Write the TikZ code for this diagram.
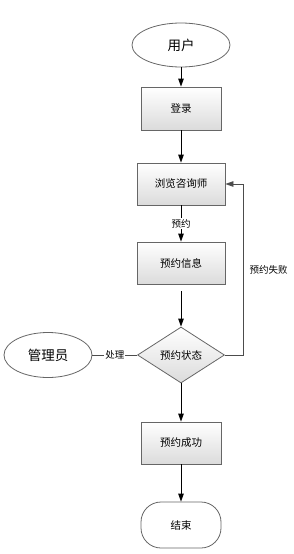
\documentclass[tikz,border=0pt]{standalone}
\usepackage{fontspec}
\setmainfont{Noto Sans CJK SC}
\usetikzlibrary{arrows.meta,shapes.geometric,positioning}
\begin{document}
\begin{tikzpicture}[x=1pt,y=-1pt,
  base/.style={draw=black!60,line width=0.8pt,inner sep=0pt,align=center},
  procbox/.style={base,rectangle,top color=white,bottom color=black!14,font=\fontsize{10.5}{12}\selectfont},
  oval/.style={base,ellipse,fill=white,font=\fontsize{13.5}{15}\selectfont},
  decide/.style={base,diamond,top color=white,bottom color=black!14,font=\fontsize{10.5}{12}\selectfont},
  term/.style={base,rectangle,rounded corners=20pt,fill=white,font=\fontsize{10.5}{12}\selectfont},
  arr/.style={draw=black,line width=0.8pt,-{Triangle[length=8pt,width=5.5pt]}},
  ln/.style={draw=black!70,line width=0.8pt},
  lbl/.style={font=\fontsize{9.5}{11}\selectfont,fill=white,inner sep=1pt}]
\useasboundingbox (0,0) rectangle (293,554);
\node[oval,minimum width=98pt,minimum height=44pt] (user) at (181,45) {用户};
\node[procbox,minimum width=80pt,minimum height=43pt] (login) at (181,108.5) {登录};
\node[procbox,minimum width=88pt,minimum height=42pt] (browse) at (181,184) {浏览咨询师};
\node[procbox,minimum width=88pt,minimum height=42pt] (info) at (181,263) {预约信息};
\node[decide,minimum width=87pt,minimum height=56pt,aspect=1.55] (state) at (181,355) {预约状态};
\node[oval,minimum width=88pt,minimum height=45pt] (admin) at (48,355) {管理员};
\node[procbox,minimum width=80pt,minimum height=42pt] (ok) at (181,443) {预约成功};
\node[term,minimum width=80pt,minimum height=46pt] (end) at (181,525) {结束};
\coordinate (rt) at (243,355);

\draw[arr] (user) -- (login);
\draw[arr] (login) -- (browse);
\draw[arr] (browse) -- node[lbl] {预约} (info);
\draw[arr,shorten <=7pt] (info) -- (state);
\draw[ln] (admin) -- node[lbl] {处理} (state);
\draw[arr,draw=black!70] (state.east) -- (rt) |- node[pos=0.25,right=3pt,font=\fontsize{9.5}{11}\selectfont] {预约失败} (browse.east);
\draw[arr] (state) -- (ok);
\draw[arr] (ok) -- (end);
\end{tikzpicture}
\end{document}
